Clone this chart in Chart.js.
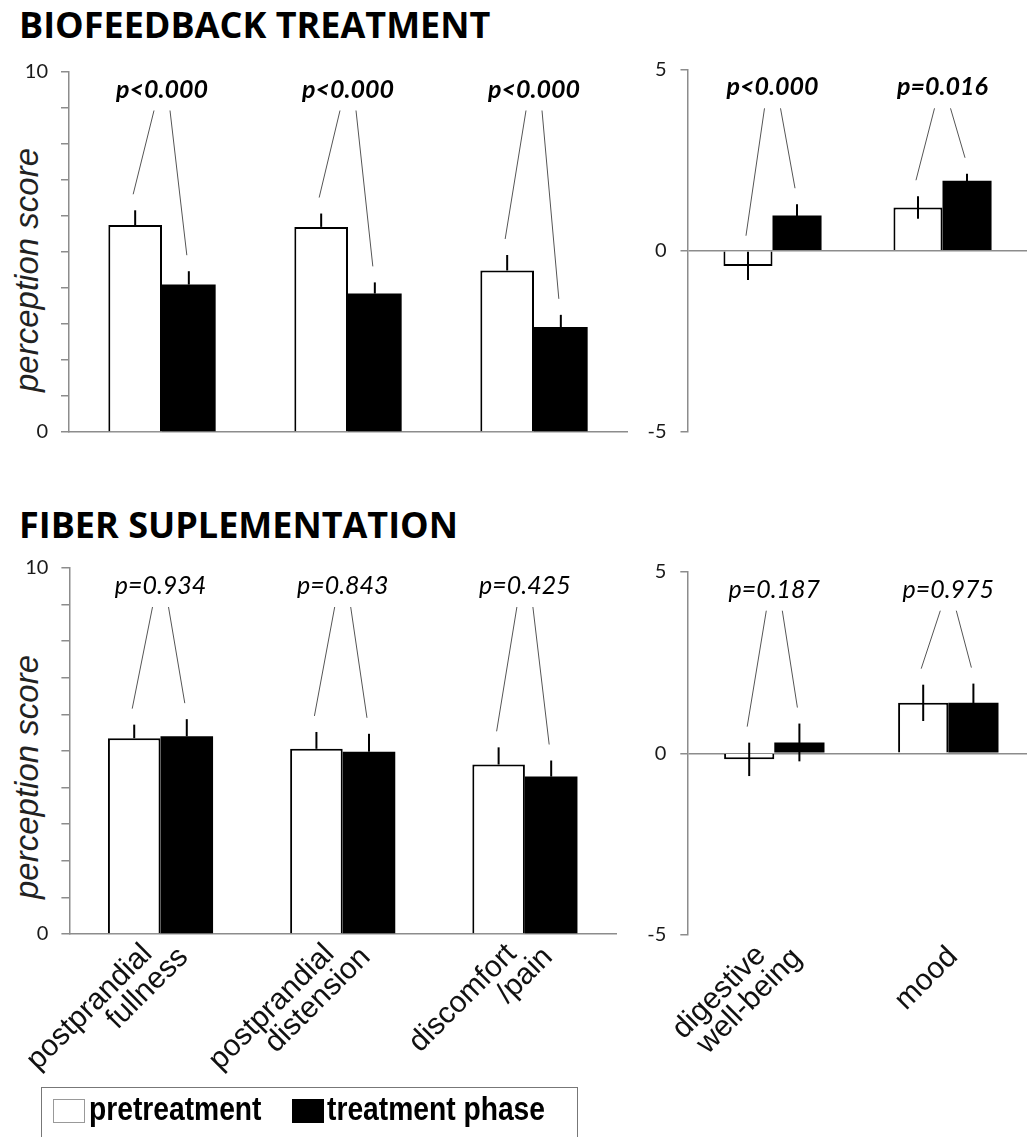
<!DOCTYPE html>
<html>
<head>
<meta charset="utf-8">
<title>Perception scores</title>
<script src="https://cdn.jsdelivr.net/npm/chart.js@4.4.1/dist/chart.umd.min.js"></script>
<style>
  body { margin: 0; width: 1027px; height: 1137px; overflow: hidden; background: #fff; position: relative; }
  canvas { position: absolute; }
  .heading { position: absolute; left: 19px; font: bold 36px/36px 'Open Sans', sans-serif; color: #000; white-space: nowrap; }
  .ytitle { position: absolute; left: 27px; font: italic 33px 'Liberation Sans', Arial, sans-serif; color: #222;
            white-space: nowrap; transform: translate(-50%, -50%) rotate(-90deg); }
  #legend { position: absolute; left: 41px; top: 1087px; width: 537px; height: 80px; border: 1.5px solid #777; box-sizing: border-box; }
  .swatch { position: absolute; top: 10.5px; width: 32px; height: 24px; box-sizing: border-box; }
  .entry { position: absolute; top: 2.5px; font: bold 34px/34px 'Liberation Sans', Arial, sans-serif; white-space: nowrap;
           transform: scaleX(0.83); transform-origin: 0 50%; }
</style>
</head>
<body>
<div class="heading" style="top:7px">BIOFEEDBACK TREATMENT</div>
<div class="heading" style="top:507px">FIBER SUPLEMENTATION</div>
<div class="ytitle" style="top:270px">perception score</div>
<div class="ytitle" style="top:777px">perception score</div>

<canvas id="bioSymptoms" width="640" height="420" style="left:0;top:40px"></canvas>
<canvas id="bioWellbeing" width="400" height="420" style="left:640px;top:40px"></canvas>
<canvas id="fiberSymptoms" width="640" height="597" style="left:0;top:540px"></canvas>
<canvas id="fiberWellbeing" width="400" height="597" style="left:640px;top:540px"></canvas>

<div id="legend">
  <div class="swatch" style="left:10.5px;background:#fff;border:1.5px solid #999"></div>
  <div class="entry" style="left:47px">pretreatment</div>
  <div class="swatch" style="left:249.5px;background:#000"></div>
  <div class="entry" style="left:285px">treatment phase</div>
</div>

<script>
// categories
const symptomCategories = [['postprandial', 'fullness'], ['postprandial', 'distension'], ['discomfort', '/pain']];
const wellbeingCategories = [['digestive', 'well-being'], 'mood'];
const seriesNames = ['pretreatment', 'treatment phase'];

// labelled ticks on the y axes
const symptomTicks = [0, 10];
const wellbeingTicks = [-5, 0, 5];

// biofeedback treatment: means and SEM
const bioSymptomPre = [5.74, 5.69, 4.48];
const bioSymptomPost = [4.09, 3.84, 2.91];
const bioSymptomPreErr = [0.41, 0.37, 0.43];
const bioSymptomPostErr = [0.37, 0.31, 0.34];
const bioSymptomP = ['p<0.000', 'p<0.000', 'p<0.000'];

const bioWellPre = [-0.42, 1.19];
const bioWellPost = [0.97, 1.93];
const bioWellPreErr = [0.39, 0.31];
const bioWellPostErr = [0.31, 0.19];
const bioWellP = ['p<0.000', 'p=0.016'];

// fiber suplementation: means and SEM
const fiberSymptomPre = [5.35, 5.06, 4.63];
const fiberSymptomPost = [5.40, 4.98, 4.30];
const fiberSymptomPreErr = [0.37, 0.46, 0.47];
const fiberSymptomPostErr = [0.47, 0.49, 0.44];
const fiberSymptomP = ['p=0.934', 'p=0.843', 'p=0.425'];

const fiberWellPre = [-0.165, 1.39];
const fiberWellPost = [0.30, 1.39];
const fiberWellPreErr = [0.46, 0.50];
const fiberWellPostErr = [0.52, 0.53];
const fiberWellP = ['p=0.187', 'p=0.975'];

const AXIS_GRAY = '#8c8c8c';

// vertical SEM whiskers, either upward only or through the bar top
const errorBars = {
  id: 'errorBars',
  afterDatasetsDraw(chart, args, opts) {
    const { ctx, scales: { y } } = chart;
    ctx.save();
    ctx.strokeStyle = '#000';
    ctx.lineWidth = 2;
    chart.data.datasets.forEach((ds, i) => {
      chart.getDatasetMeta(i).data.forEach((bar, j) => {
        const v = ds.data[j];
        const e = ds.errors[j];
        const dir = v < 0 ? -1 : 1;
        const from = opts.both ? v - dir * e : v;
        ctx.beginPath();
        ctx.moveTo(bar.x, y.getPixelForValue(from));
        ctx.lineTo(bar.x, y.getPixelForValue(v + dir * e));
        ctx.stroke();
      });
    });
    ctx.restore();
  }
};

// p value above each pair with two thin leader lines down to the bars
const pValues = {
  id: 'pValues',
  afterDatasetsDraw(chart, args, opts) {
    const { ctx, chartArea, scales: { x, y } } = chart;
    ctx.save();
    ctx.font = 'italic ' + (opts.bold ? 'bold ' : '') + '25px Lato, sans-serif';
    ctx.fillStyle = '#000';
    ctx.textAlign = 'center';
    ctx.textBaseline = 'middle';
    ctx.strokeStyle = '#555';
    ctx.lineWidth = 1;
    opts.labels.forEach((txt, j) => {
      const cx = x.getPixelForValue(j);
      ctx.fillText(txt, cx, chartArea.top + 18);
      [0, 1].forEach(i => {
        const ds = chart.data.datasets[i];
        const bar = chart.getDatasetMeta(i).data[j];
        const tip = y.getPixelForValue(ds.data[j] + ds.errors[j]) - 16;
        ctx.beginPath();
        ctx.moveTo(cx + (i ? 8 : -8), chartArea.top + 39);
        ctx.lineTo(bar.x - 2, tip);
        ctx.stroke();
      });
    });
    ctx.restore();
  }
};

// slanted two-line category names under the x axis
const catLabels = {
  id: 'catLabels',
  afterDraw(chart, args, opts) {
    if (!opts.display) return;
    const { ctx, scales: { x } } = chart;
    ctx.save();
    ctx.font = '30px "Liberation Sans", Arial, sans-serif';
    ctx.fillStyle = '#111';
    ctx.textAlign = 'right';
    ctx.textBaseline = 'middle';
    chart.data.labels.forEach((label, j) => {
      const lines = [].concat(label);
      const tx = x.getPixelForValue(j);
      lines.forEach((line, k) => {
        const step = k - (lines.length - 1) / 2;
        ctx.save();
        ctx.translate(tx + 5 + step * 36, x.top + 17 + step * 3);
        ctx.rotate(-Math.PI / 4);
        ctx.fillText(line, 0, 0);
        ctx.restore();
      });
    });
    ctx.restore();
  }
};

function drawPanel(id, cfg) {
  const wellbeing = cfg.ticks === wellbeingTicks;
  return new Chart(document.getElementById(id), {
    type: 'bar',
    data: {
      labels: cfg.labels,
      datasets: [
        { label: seriesNames[0], data: cfg.pre, errors: cfg.preErr,
          backgroundColor: '#fff', borderColor: '#000', borderWidth: 2 },
        { label: seriesNames[1], data: cfg.post, errors: cfg.postErr,
          backgroundColor: '#000', borderColor: '#000', borderWidth: 0 }
      ]
    },
    options: {
      responsive: false,
      animation: false,
      events: [],
      layout: { padding: cfg.padding },
      datasets: { bar: { categoryPercentage: 0.577, barPercentage: 1 } },
      plugins: {
        legend: { display: false },
        tooltip: { enabled: false },
        errorBars: { both: wellbeing },
        pValues: { labels: cfg.pLabels, bold: cfg.bold },
        catLabels: { display: cfg.showLabels }
      },
      scales: {
        x: {
          afterFit: s => { s.height = 0; },
          grid: { display: false, drawTicks: false },
          ticks: { display: false },
          border: { display: !wellbeing, color: AXIS_GRAY, width: 1.5 }
        },
        y: {
          min: cfg.ticks[0],
          max: cfg.ticks[cfg.ticks.length - 1],
          afterFit: s => { s.width = cfg.yWidth; },
          ticks: {
            stepSize: wellbeing ? 5 : 1,
            autoSkip: false,
            padding: wellbeing ? 14 : 13,
            color: '#1a1a1a',
            font: { family: 'Lato', size: 20 },
            callback: v => cfg.ticks.includes(v) ? v : ''
          },
          grid: {
            drawOnChartArea: wellbeing,
            color: c => (wellbeing && c.tick && c.tick.value !== 0) ? 'rgba(0,0,0,0)' : AXIS_GRAY,
            tickColor: AXIS_GRAY,
            tickLength: wellbeing ? 7 : 8,
            lineWidth: 1.5
          },
          border: { color: AXIS_GRAY, width: 1.5 }
        }
      }
    },
    plugins: [errorBars, pValues, catLabels]
  });
}

drawPanel('bioSymptoms', {
  labels: symptomCategories, ticks: symptomTicks,
  pre: bioSymptomPre, post: bioSymptomPost, preErr: bioSymptomPreErr, postErr: bioSymptomPostErr,
  pLabels: bioSymptomP, bold: true, showLabels: false,
  yWidth: 69, padding: { left: 0, right: 13, top: 31.5, bottom: 28 }
});

drawPanel('bioWellbeing', {
  labels: wellbeingCategories, ticks: wellbeingTicks,
  pre: bioWellPre, post: bioWellPost, preErr: bioWellPreErr, postErr: bioWellPostErr,
  pLabels: bioWellP, bold: true, showLabels: false,
  yWidth: 47.5, padding: { left: 0, right: 12.5, top: 29.3, bottom: 28 }
});

drawPanel('fiberSymptoms', {
  labels: symptomCategories, ticks: symptomTicks,
  pre: fiberSymptomPre, post: fiberSymptomPost, preErr: fiberSymptomPreErr, postErr: fiberSymptomPostErr,
  pLabels: fiberSymptomP, bold: false, showLabels: true,
  yWidth: 69.4, padding: { left: 0, right: 24, top: 28, bottom: 203 }
});

drawPanel('fiberWellbeing', {
  labels: wellbeingCategories, ticks: wellbeingTicks,
  pre: fiberWellPre, post: fiberWellPost, preErr: fiberWellPreErr, postErr: fiberWellPostErr,
  pLabels: fiberWellP, bold: false, showLabels: true,
  yWidth: 47.3, padding: { left: 0, right: 4.7, top: 31.7, bottom: 202 }
});
</script>
</body>
</html>
